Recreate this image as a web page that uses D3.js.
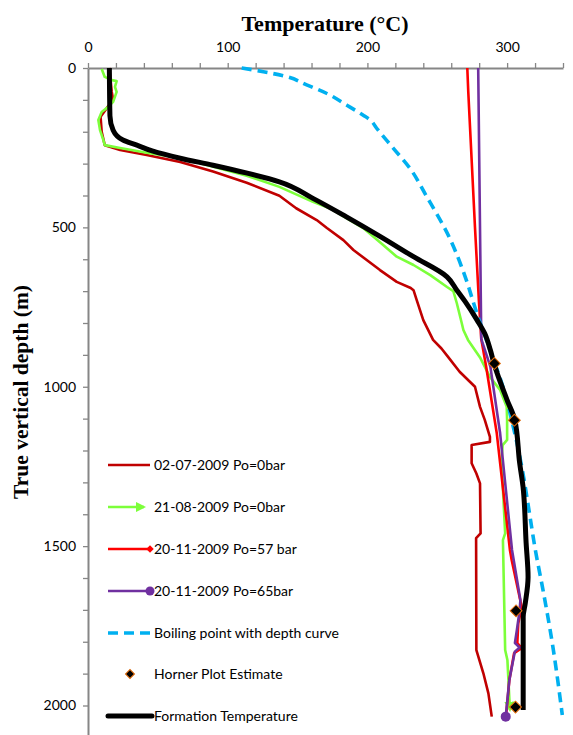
<!DOCTYPE html>
<html>
<head>
<meta charset="utf-8">
<script src="https://cdn.jsdelivr.net/npm/d3@7"></script>
<style>
  html, body { margin: 0; padding: 0; background: #fff; }
  svg { display: block; }
</style>
</head>
<body>
<svg id="chart" width="573" height="735"></svg>
<script>
// Temperature logs (depth in m, temperature in °C)
const log0207Depth = [0, 75, 100, 126, 153, 200, 242, 257, 273, 295, 325, 360, 401, 440, 477, 502, 540, 571, 634, 671, 690, 697, 728, 791, 853, 880, 908, 953, 1000, 1063, 1104, 1157, 1173, 1183, 1240, 1272, 1303, 1460, 1475, 1826, 1899, 1962, 2035];
const log0207Temp  = [15.3, 17, 18, 13.4, 9, 9.8, 12, 23, 42, 66, 89.5, 113.6, 137, 149, 163.7, 171, 182.8, 190, 209, 221, 231, 233, 235.3, 240, 247, 253, 258, 266, 277, 280.6, 284, 287.7, 287.7, 274.6, 274.6, 278, 280.6, 281, 277.8, 278, 283, 286.6, 289];

const log2108Depth = [3, 28, 38, 41, 59, 75, 106, 122, 138, 163, 195, 226, 242, 251, 266, 282, 310, 338, 373, 420, 440, 471, 502, 547, 592, 618, 650, 687, 700, 738, 800, 822, 853, 908, 969, 1010, 1063, 1104, 1167, 1183, 1230, 1303, 1460, 1481, 1826, 1857, 2014];
const log2108Temp  = [9.8, 12, 17, 20.5, 19.3, 20.5, 18, 14.5, 9.8, 7.4, 8.6, 11, 12, 23, 42, 66, 89.7, 113.6, 137, 161, 173, 185, 197, 209, 221, 233, 245, 257, 261.5, 264, 267.5, 268.7, 272, 280.6, 287.7, 295, 299.7, 300, 300, 296.8, 296, 296.8, 298.6, 297, 298.6, 300.2, 302];

const log57Depth = [0, 75, 500, 730, 850, 937, 1146, 1512, 1544, 1690, 1742, 1804, 1820, 1836, 1920, 2030];
const log57Temp  = [271.5, 272.2, 277, 279.8, 281.5, 285, 292.6, 302, 303.3, 310.4, 308, 307.3, 310.4, 305, 301.6, 299.3];

const log65Depth = [0, 850, 937, 1146, 1512, 1669, 1700, 1763, 1804, 1818, 1831, 1920, 2035];
const log65Temp  = [279.3, 281.5, 288, 295, 303.5, 309.5, 309, 307, 305.6, 309, 305.5, 301.6, 299];

const boilDepth = [0, 11.5, 27, 53, 80, 116, 148, 163, 189, 252, 315, 400, 535, 655, 765, 900, 1000, 1100, 1240, 1397, 1507, 1638, 1795, 2030];
const boilTemp  = [110, 125.5, 142, 156.5, 171, 185, 197, 202, 206.6, 218.6, 230.5, 242, 259, 270, 278, 289, 297, 303, 310, 316, 320, 325.7, 332, 339.5];

const hornerDepth = [927, 1105, 1703, 2005];
const hornerTemp  = [290.9, 305.2, 306.4, 306];

const formDepth = [0, 150, 195, 226, 242, 261, 283, 305, 330, 357, 409, 467, 528, 592, 655, 697, 733, 791, 833, 885, 927, 1042, 1104, 1240, 1314, 1490, 1597, 1679, 1722, 2014];
const formTemp  = [15.3, 15.7, 18, 25, 35, 46.5, 66, 89.5, 114, 137, 161, 185, 209, 233, 257, 264, 270, 278.5, 284, 288, 290.6, 300, 305.5, 309, 311.4, 313.6, 315, 313, 311.5, 311.5];

// Axis ticks
const xMinorTicks = d3.range(0, 341, 20);
const xLabelTicks = [0, 100, 200, 300];
const yMinorTicks = d3.range(0, 2101, 100);
const yLabelTicks = [0, 500, 1000, 1500, 2000];

const legendLabels = [
  "02-07-2009 Po=0bar",
  "21-08-2009 Po=0bar",
  "20-11-2009 Po=57 bar",
  "20-11-2009 Po=65bar",
  "Boiling point with depth curve",
  "Horner Plot Estimate",
  "Formation Temperature"
];

const colDarkRed = "#C00000", colGreen = "#7CFF3A", colRed = "#FF0000",
      colPurple = "#7030A0", colBlue = "#00B0F0", colOrange = "#E46C0A";

const svg = d3.select("#chart");
const x = d3.scaleLinear().domain([0, 340]).range([88, 563]);
const y = d3.scaleLinear().domain([0, 2100]).range([68, 68 + 2100 * 0.31875]);

const tickFont = "Lato, 'Open Sans', sans-serif";

// Arrow head for the 21-08 log
const defs = svg.append("defs");
defs.append("marker")
  .attr("id", "arrowGreen")
  .attr("viewBox", "0 0 10 10")
  .attr("refX", 8).attr("refY", 5)
  .attr("markerWidth", 4).attr("markerHeight", 4)
  .attr("markerUnits", "strokeWidth")
  .attr("orient", "auto")
  .append("path").attr("d", "M0,0 L10,5 L0,10 Z").attr("fill", colGreen);

// X axis (top)
const xAxis = d3.axisTop(x)
  .tickValues(xMinorTicks)
  .tickSize(5).tickSizeOuter(0)
  .tickFormat(d => xLabelTicks.includes(d) ? d : "");
const gx = svg.append("g").attr("transform", `translate(0,${y(0)})`).call(xAxis);
gx.select(".domain").attr("stroke", "#868686").attr("stroke-width", 2);
gx.selectAll(".tick line").attr("stroke", "#868686").attr("stroke-width", 1.3);
gx.selectAll(".tick text").attr("font-family", tickFont).attr("font-size", 14)
  .attr("fill", "#000").attr("dy", "-0.55em");

// Y axis (left)
const yAxis = d3.axisLeft(y)
  .tickValues(yMinorTicks)
  .tickSize(5).tickSizeOuter(0)
  .tickFormat(d => yLabelTicks.includes(d) ? d : "");
const gy = svg.append("g").attr("transform", `translate(${x(0)},0)`).call(yAxis);
gy.select(".domain").attr("stroke", "#868686").attr("stroke-width", 2);
gy.selectAll(".tick line").attr("stroke", "#868686").attr("stroke-width", 1.3);
gy.selectAll(".tick text").attr("font-family", tickFont).attr("font-size", 14)
  .attr("fill", "#000").attr("x", -12);

// Axis titles
svg.append("text")
  .attr("x", 325).attr("y", 31)
  .attr("text-anchor", "middle")
  .attr("font-family", "'Liberation Serif', 'Times New Roman', serif")
  .attr("font-weight", "bold").attr("font-size", 22)
  .text("Temperature (°C)");
svg.append("text")
  .attr("transform", "translate(28,392) rotate(-90)")
  .attr("text-anchor", "middle")
  .attr("font-family", "'Liberation Serif', 'Times New Roman', serif")
  .attr("font-weight", "bold").attr("font-size", 21.5)
  .text("True vertical depth (m)");

const line = d3.line().x(d => x(d[1])).y(d => y(d[0]));
const smooth = d3.line().curve(d3.curveMonotoneY).x(d => x(d[1])).y(d => y(d[0]));
const pairs = (ds, ts) => ds.map((d, i) => [d, ts[i]]);

const plot = svg.append("g");
plot.append("path").datum(pairs(log0207Depth, log0207Temp))
  .attr("d", line).attr("fill", "none").attr("stroke", colDarkRed)
  .attr("stroke-width", 2.6).attr("stroke-linejoin", "round");
plot.append("path").datum(pairs(log2108Depth, log2108Temp))
  .attr("d", line).attr("fill", "none").attr("stroke", colGreen)
  .attr("stroke-width", 2.6).attr("stroke-linejoin", "round")
  .attr("marker-end", "url(#arrowGreen)");
plot.append("path").datum(pairs(log57Depth, log57Temp))
  .attr("d", line).attr("fill", "none").attr("stroke", colRed)
  .attr("stroke-width", 2.6).attr("stroke-linejoin", "round");
plot.append("path").datum(pairs(log65Depth, log65Temp))
  .attr("d", line).attr("fill", "none").attr("stroke", colPurple)
  .attr("stroke-width", 2.6).attr("stroke-linejoin", "round");
// Final reading of the 65 bar log
plot.append("circle")
  .attr("cx", x(log65Temp[log65Temp.length - 1]))
  .attr("cy", y(log65Depth[log65Depth.length - 1]))
  .attr("r", 5).attr("fill", colPurple);

plot.append("path").datum(pairs(boilDepth, boilTemp))
  .attr("d", smooth)
  .attr("fill", "none").attr("stroke", colBlue)
  .attr("stroke-width", 3.6).attr("stroke-dasharray", "10,6");

plot.append("path").datum(pairs(formDepth, formTemp))
  .attr("d", smooth).attr("fill", "none").attr("stroke", "#000")
  .attr("stroke-width", 5).attr("stroke-linejoin", "round");

plot.selectAll(".horner").data(pairs(hornerDepth, hornerTemp)).enter()
  .append("path").attr("class", "horner")
  .attr("transform", d => `translate(${x(d[1])},${y(d[0])}) rotate(45)`)
  .attr("d", d3.symbol().type(d3.symbolSquare).size(70))
  .attr("fill", "#000").attr("stroke", colOrange).attr("stroke-width", 1);

// Legend
const legY = [465, 507, 549, 591, 633, 674, 716];
const lg = svg.append("g");
const lx0 = 108, lx1 = 150, ltx = 154;
lg.append("line").attr("x1", lx0).attr("x2", lx1).attr("y1", legY[0]).attr("y2", legY[0])
  .attr("stroke", colDarkRed).attr("stroke-width", 2.6);
lg.append("line").attr("x1", lx0).attr("x2", lx1 - 6).attr("y1", legY[1]).attr("y2", legY[1])
  .attr("stroke", colGreen).attr("stroke-width", 2.6).attr("marker-end", "url(#arrowGreen)");
lg.append("line").attr("x1", lx0).attr("x2", lx1).attr("y1", legY[2]).attr("y2", legY[2])
  .attr("stroke", colRed).attr("stroke-width", 2.6);
lg.append("path").attr("transform", `translate(${lx1},${legY[2]}) rotate(45)`)
  .attr("d", d3.symbol().type(d3.symbolSquare).size(28)).attr("fill", colRed);
lg.append("line").attr("x1", lx0).attr("x2", lx1).attr("y1", legY[3]).attr("y2", legY[3])
  .attr("stroke", colPurple).attr("stroke-width", 2.6);
lg.append("circle").attr("cx", lx1).attr("cy", legY[3]).attr("r", 4.5).attr("fill", colPurple);
lg.append("line").attr("x1", lx0).attr("x2", lx1 + 2).attr("y1", legY[4]).attr("y2", legY[4])
  .attr("stroke", colBlue).attr("stroke-width", 3.6).attr("stroke-dasharray", "10,6");
lg.append("path").attr("transform", `translate(130,${legY[5]}) rotate(45)`)
  .attr("d", d3.symbol().type(d3.symbolSquare).size(40))
  .attr("fill", "#000").attr("stroke", colOrange).attr("stroke-width", 1);
lg.append("line").attr("x1", lx0).attr("x2", lx1 + 2).attr("y1", legY[6]).attr("y2", legY[6])
  .attr("stroke", "#000").attr("stroke-width", 5).attr("stroke-linecap", "round");

lg.selectAll(".ltext").data(legendLabels).enter().append("text")
  .attr("x", ltx).attr("y", (d, i) => legY[i] + 5)
  .attr("font-family", tickFont).attr("font-size", 14).attr("fill", "#000")
  .text(d => d);
</script>
</body>
</html>
